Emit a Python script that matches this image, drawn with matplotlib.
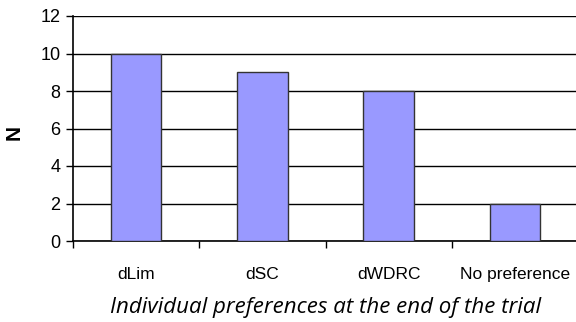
import matplotlib.pyplot as plt
import numpy as np

categories = ['dLim', 'dSC', 'dWDRC', 'No preference']
counts = [10, 9, 8, 2]
yticks = [0, 2, 4, 6, 8, 10, 12]

fig = plt.figure(figsize=(5.76, 3.22), dpi=100)
ax = fig.add_axes([73 / 576, 1 - 241 / 322, 505 / 576, 225 / 322])

x = np.arange(len(categories))
ax.bar(x, counts, width=0.4, color='#9999ff', edgecolor='#333333', linewidth=1, zorder=3)

ax.set_xlim(-0.5, len(categories) - 0.5)
ax.set_ylim(0, 12)
ax.set_yticks(yticks)
ax.yaxis.grid(True, color='black', linewidth=1, zorder=0)
ax.tick_params(axis='y', length=5, width=1, labelsize=13, pad=4)

# category ticks sit between the bars, labels centered under them
ax.set_xticks(np.arange(len(categories) + 1) - 0.5)
ax.set_xticklabels([])
ax.set_xticks(x, minor=True)
ax.set_xticklabels(categories, minor=True, fontsize=12.5)
ax.tick_params(axis='x', which='major', length=5, width=1)
ax.tick_params(axis='x', which='minor', length=0, pad=18.5)

for s in ['top', 'right']:
    ax.spines[s].set_visible(False)
ax.spines['left'].set_linewidth(1.2)
ax.spines['bottom'].set_linewidth(1.2)

for lab in ax.get_xticklabels(minor=True) + ax.get_yticklabels():
    lab.set_family('Liberation Sans')

ax.set_ylabel('N', fontsize=15, fontweight='bold', family='Liberation Sans', labelpad=14)
ax.yaxis.set_label_coords(-0.098, 0.48)
ax.set_xlabel('Individual preferences at the end of the trial', fontsize=16,
              style='italic', family='Open Sans', labelpad=11)

fig.savefig('out.png', dpi=100)
